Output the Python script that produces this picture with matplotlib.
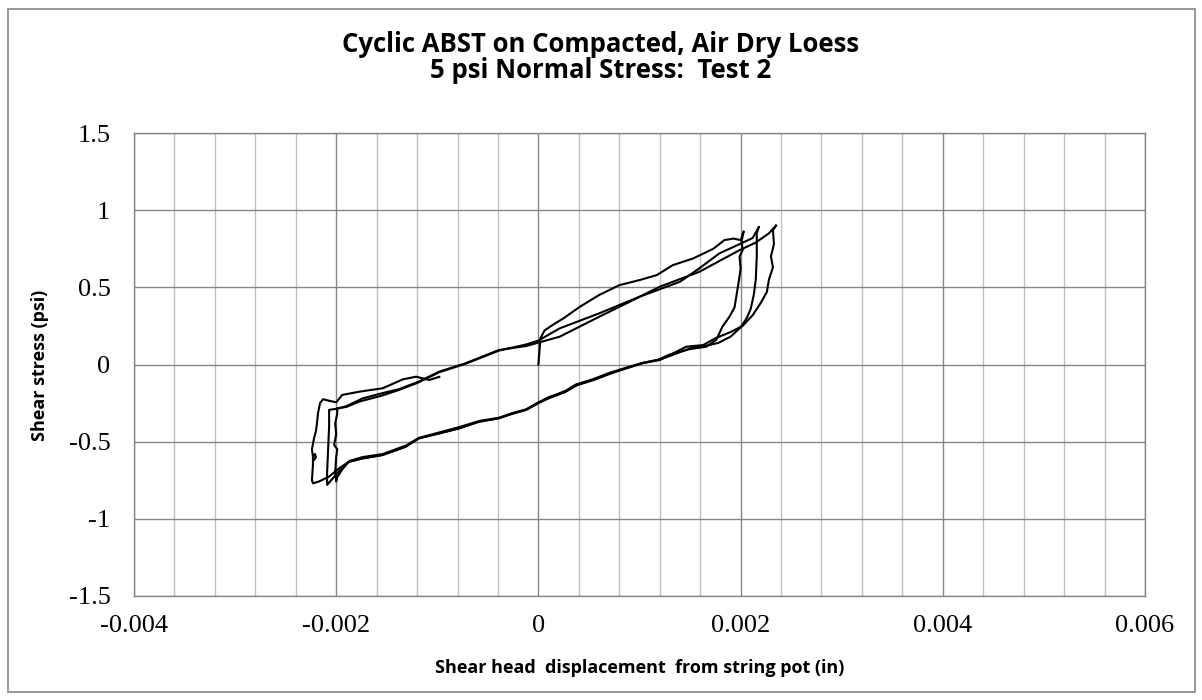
import numpy as np
import matplotlib
matplotlib.use("Agg")
import matplotlib.pyplot as plt
from matplotlib.patches import Rectangle
from matplotlib.ticker import MultipleLocator

# initial loading from zero up to first peak
load_x = [0.0, 0.00001, 0.00002, 0.00006, 0.00014, 0.00025, 0.00041, 0.00060, 0.00080,
          0.00100, 0.00117, 0.00133, 0.00153, 0.00173, 0.00184, 0.00193, 0.00200, 0.00203]
load_y = [0.0, 0.08, 0.17, 0.22, 0.256, 0.30, 0.374, 0.45, 0.514,
          0.547, 0.579, 0.644, 0.687, 0.75, 0.806, 0.816, 0.806, 0.86]

# cycle 1: unload from peak 1, down to trough 1, back up to peak 2
cyc1_x = [0.00203, 0.00201, 0.00202, 0.00199, 0.00200, 0.00198, 0.00196, 0.00194, 0.00189,
          0.00182, 0.00176, 0.00166, 0.00150, 0.00130, 0.00118, 0.00103, 0.00087, 0.00070,
          0.00054, 0.00037, 0.00027, 0.00010, 0.0, -0.00012, -0.00026, -0.00039, -0.00058,
          -0.00078, -0.00098, -0.00118, -0.00131, -0.00154, -0.00174, -0.00187, -0.00194,
          -0.00199, -0.00200, -0.00201, -0.00200, -0.00199, -0.00202, -0.00200, -0.00201,
          -0.00199, -0.00199, -0.00190, -0.00177, -0.00154, -0.00138, -0.00120, -0.00098,
          -0.00072, -0.00039, -0.00012, 0.0, 0.00021, 0.00060, 0.00100, 0.00140, 0.00159,
          0.00179, 0.00199, 0.00212, 0.00218]
cyc1_y = [0.86, 0.80, 0.74, 0.70, 0.62, 0.53, 0.45, 0.37, 0.31,
          0.245, 0.16, 0.115, 0.100, 0.065, 0.030, 0.010, -0.020, -0.055,
          -0.095, -0.130, -0.170, -0.215, -0.245, -0.290, -0.315, -0.345, -0.365,
          -0.405, -0.440, -0.475, -0.525, -0.580, -0.600, -0.625, -0.680,
          -0.730, -0.758, -0.70, -0.60, -0.55, -0.52, -0.45, -0.38,
          -0.32, -0.284, -0.275, -0.240, -0.200, -0.165, -0.120, -0.050,
          0.005, 0.090, 0.130, 0.155, 0.234, 0.331, 0.439, 0.536, 0.622,
          0.720, 0.780, 0.820, 0.890]

# cycle 2: unload from peak 2, trough 2, up to peak 3
cyc2_x = [0.00218, 0.00216, 0.00216, 0.00215, 0.00213, 0.00210, 0.00206, 0.00200, 0.00190,
          0.00178, 0.00165, 0.00150, 0.00132, 0.00120, 0.00104, 0.00088, 0.00071, 0.00055,
          0.00038, 0.00026, 0.00010, 0.0, -0.00013, -0.00027, -0.00040, -0.00060, -0.00079,
          -0.00099, -0.00119, -0.00132, -0.00155, -0.00175, -0.00188, -0.00197, -0.00205,
          -0.00209, -0.00209, -0.00208, -0.00207, -0.00207, -0.00198, -0.00190, -0.00174,
          -0.00154, -0.00138, -0.00118, -0.00098, -0.00072, -0.00039, -0.00012, 0.00021,
          0.00060, 0.00087, 0.00120, 0.00159, 0.00199, 0.00215, 0.00228, 0.00235]
cyc2_y = [0.89, 0.85, 0.70, 0.55, 0.45, 0.36, 0.30, 0.24, 0.18,
          0.14, 0.12, 0.105, 0.060, 0.032, 0.012, -0.022, -0.060, -0.100,
          -0.135, -0.180, -0.220, -0.250, -0.295, -0.320, -0.350, -0.372, -0.415,
          -0.448, -0.480, -0.535, -0.588, -0.610, -0.632, -0.690, -0.750,
          -0.780, -0.70, -0.55, -0.40, -0.294, -0.285, -0.270, -0.220,
          -0.185, -0.160, -0.110, -0.046, 0.008, 0.094, 0.120, 0.180,
          0.309, 0.396, 0.504, 0.600, 0.741, 0.790, 0.850, 0.900]

# cycle 3: unload from peak 3, trough 3, partial reload
cyc3_x = [0.00235, 0.00232, 0.00233, 0.00230, 0.00232, 0.00228, 0.00226, 0.00220, 0.00212,
          0.00202, 0.00190, 0.00175, 0.00163, 0.00146, 0.00130, 0.00120, 0.00103, 0.00087,
          0.00070, 0.00054, 0.00037, 0.00027, 0.00010, 0.0, -0.00012, -0.00026, -0.00039,
          -0.00058, -0.00078, -0.00098, -0.00118, -0.00131, -0.00154, -0.00174, -0.00187,
          -0.00197, -0.00207, -0.00217, -0.00223, -0.00224, -0.00223, -0.00223, -0.00221,
          -0.00220, -0.00222, -0.00223, -0.00224, -0.00222, -0.00220, -0.00219, -0.00218,
          -0.00216, -0.00213, -0.00207, -0.00200, -0.00194, -0.00177, -0.00154, -0.00134,
          -0.00121, -0.00108, -0.00098]
cyc3_y = [0.90, 0.87, 0.78, 0.70, 0.63, 0.55, 0.47, 0.40, 0.32,
          0.25, 0.21, 0.17, 0.126, 0.115, 0.061, 0.029, 0.008, -0.025,
          -0.057, -0.100, -0.133, -0.176, -0.212, -0.250, -0.294, -0.320, -0.348,
          -0.370, -0.413, -0.446, -0.478, -0.532, -0.586, -0.608, -0.629,
          -0.672, -0.726, -0.758, -0.770, -0.75, -0.65, -0.60, -0.58,
          -0.60, -0.62, -0.60, -0.55, -0.48, -0.43, -0.38, -0.316,
          -0.25, -0.225, -0.235, -0.245, -0.197, -0.176, -0.154, -0.096,
          -0.079, -0.100, -0.080]

x_ticks = [-0.004, -0.002, 0, 0.002, 0.004, 0.006]
x_tick_labels = ["-0.004", "-0.002", "0", "0.002", "0.004", "0.006"]
y_ticks = [-1.5, -1, -0.5, 0, 0.5, 1, 1.5]
y_tick_labels = ["-1.5", "-1", "-0.5", "0", "0.5", "1", "1.5"]

W, H = 1202, 700
fig = plt.figure(figsize=(W / 100, H / 100), dpi=100)
ax = fig.add_axes([134 / W, 1 - 596 / H, (1145 - 134) / W, (596 - 133) / H])

for xs, ys in [(load_x, load_y), (cyc1_x, cyc1_y), (cyc2_x, cyc2_y), (cyc3_x, cyc3_y)]:
    ax.plot(xs, ys, color="black", lw=1.5, solid_joinstyle="round", zorder=3)

ax.set_xlim(-0.004, 0.006)
ax.set_ylim(-1.5, 1.5)
ax.set_xticks(x_ticks)
ax.set_xticklabels(x_tick_labels)
ax.set_yticks(y_ticks)
ax.set_yticklabels(y_tick_labels)
ax.xaxis.set_minor_locator(MultipleLocator(0.0004))
ax.grid(which="major", color="#868686", lw=1.0, zorder=1)
ax.grid(which="minor", axis="x", color="#c0c0c0", lw=1.0, zorder=0)
ax.tick_params(which="both", length=0)
ax.tick_params(axis="x", pad=14)
ax.tick_params(axis="y", pad=17)
for lab in ax.get_xticklabels() + ax.get_yticklabels():
    lab.set_family("Liberation Serif")
    lab.set_fontsize(19)
for s in ax.spines.values():
    s.set_color("#868686")
    s.set_linewidth(1.0)

sans = "Open Sans"
fig.text(0.5, 1 - 45 / H, "Cyclic ABST on Compacted, Air Dry Loess", ha="center", va="center",
         family=sans, fontweight="bold", fontsize=18.5)
fig.text(0.5, 1 - 70 / H, "5 psi Normal Stress:  Test 2", ha="center", va="center",
         family=sans, fontweight="bold", fontsize=18.5)
fig.text(640 / W, 1 - 668 / H, "Shear head  displacement  from string pot (in)", ha="center",
         va="center", family=sans, fontweight="bold", fontsize=13)
fig.text(40 / W, 1 - 365 / H, "Shear stress (psi)", ha="center", va="center", rotation=90,
         family=sans, fontweight="bold", fontsize=13)

fig.patches.append(Rectangle((8 / W, 1 - 692 / H), (1195 - 8) / W, (692 - 9) / H,
                             transform=fig.transFigure, fill=False, edgecolor="#868686", lw=1.2))

fig.savefig("out.png", dpi=100)
